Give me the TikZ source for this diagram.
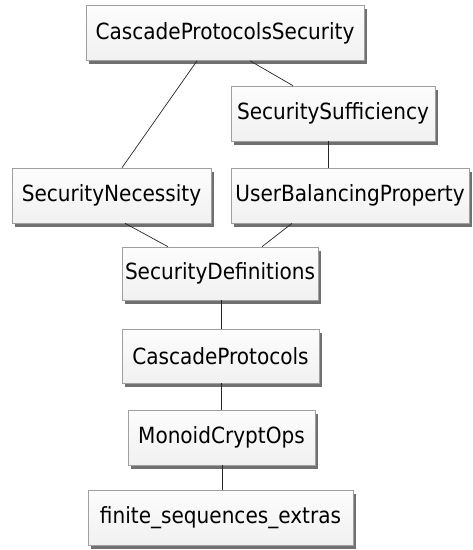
\documentclass[tikz,border=0pt]{standalone}
\usepackage{fontspec}
\setmainfont{DejaVu Sans Condensed}
\usetikzlibrary{shadows}
\begin{document}
\begin{tikzpicture}[x=1pt,y=-1pt,
  box/.style={draw=gray!75, line width=0.6pt, top color=gray!2, bottom color=gray!11,
    drop shadow={shadow xshift=3pt, shadow yshift=-3.5pt, fill=black!70, opacity=0.8},
    inner sep=0pt, minimum height=55pt, font=\fontsize{22.3}{24}\selectfont},
  link/.style={draw=black!85, line width=0.7pt}]
\useasboundingbox (0,0) rectangle (473,550);
\node[box, minimum width=278pt] (cps) at (225,33) {CascadeProtocolsSecurity};
\node[box, minimum width=204pt] (ss) at (333,113.5) {SecuritySufficiency};
\node[box, minimum width=199pt] (sn) at (111.5,195.5) {SecurityNecessity};
\node[box, minimum width=238pt] (ubp) at (350,195.5) {UserBalancingProperty};
\node[box, minimum width=196pt, minimum height=53pt] (sd) at (220,273.5) {SecurityDefinitions};
\node[box, minimum width=197pt, minimum height=54pt] (cp) at (220.5,356) {CascadeProtocols};
\node[box, minimum width=187pt] (mco) at (221.5,437.5) {MonoidCryptOps};
\node[box, minimum width=265pt] (fse) at (220.5,517.5) {finite\_sequences\_extras};
\draw[link] ([xshift=-28pt]cps.south) -- ([xshift=10.5pt]sn.north);
\draw[link] ([xshift=25pt]cps.south) -- ([xshift=-40pt]ss.north);
\draw[link] ([xshift=-5pt]ss.south) -- ([xshift=-22pt]ubp.north);
\draw[link] ([xshift=13.5pt]sn.south) -- ([xshift=-52pt]sd.north);
\draw[link] ([xshift=-58pt]ubp.south) -- ([xshift=42pt]sd.north);
\draw[link] ([xshift=1pt]sd.south) -- ([xshift=0.5pt]cp.north);
\draw[link] ([xshift=0.5pt]cp.south) -- ([xshift=-0.5pt]mco.north);
\draw[link] ([xshift=0.5pt]mco.south) -- ([xshift=1.5pt]fse.north);
\end{tikzpicture}
\end{document}
